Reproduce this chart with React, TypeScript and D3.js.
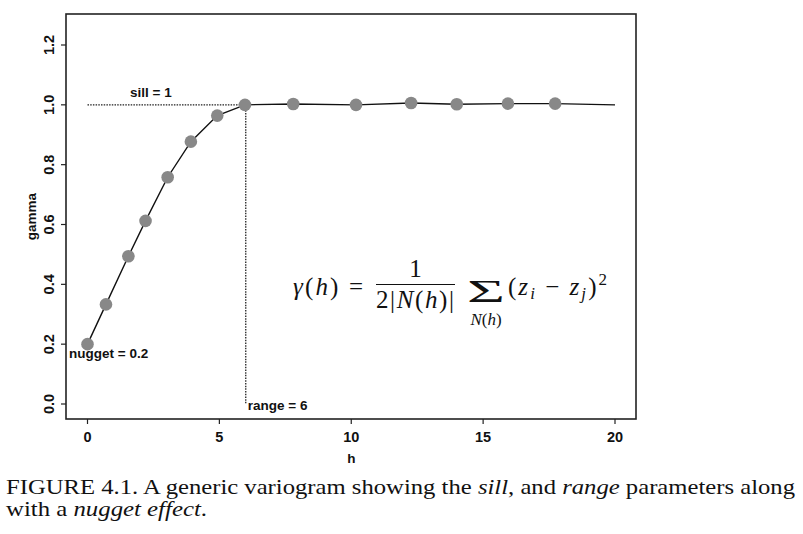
import React from "react";
import * as d3 from "d3";

const lagH = [0, 0.7, 1.55, 2.2, 3.04, 3.92, 4.92, 5.97, 7.8, 10.18, 12.27, 14.0, 15.94, 17.73];
const gammaV = [0.2, 0.333, 0.494, 0.612, 0.758, 0.877, 0.964, 1.0, 1.003, 1.0, 1.006, 1.002, 1.004, 1.004];
const lineEnd = { h: 20, g: 1.0 };
const xTicks = [0, 5, 10, 15, 20];
const yTicks = [0, 0.2, 0.4, 0.6, 0.8, 1.0, 1.2];
const sill = 1;
const range = 6;
const nugget = 0.2;

export default function App() {
  const W = 803, H = 534;
  const box = { l: 66, r: 636, t: 14, b: 419 };
  const x = d3.scaleLinear().domain([0, 20]).range([87.5, 615]);
  const y = d3.scaleLinear().domain([0, 1.2]).range([404, 45]);
  const pts = lagH.map((h, i) => [h, gammaV[i]] as [number, number]);
  const linePts = [...pts, [lineEnd.h, lineEnd.g] as [number, number]];
  const line = d3.line<[number, number]>().x(d => x(d[0])).y(d => y(d[1]));
  const sans = "'Liberation Sans', Arial, Helvetica, sans-serif";
  const serif = "'Liberation Serif', 'DejaVu Serif', serif";
  const fw = 600;
  const fs = 14.5;
  return (
    <svg width={W} height={H} style={{ position: "absolute", left: 0, top: 0, background: "#fff" }}>
      <rect x={0} y={0} width={W} height={H} fill="#fff" />
      <rect x={box.l} y={box.t} width={box.r - box.l} height={box.b - box.t} fill="none" stroke="#222" strokeWidth={1.6} />
      {/* y axis */}
      {yTicks.map(t => (
        <g key={"y" + t}>
          <line x1={box.l - 5} x2={box.l} y1={y(t)} y2={y(t)} stroke="#222" strokeWidth={1.2} />
          <text transform={`translate(54,${y(t)}) rotate(-90)`} textAnchor="middle" fontFamily={sans} fontWeight={fw} fontSize={fs} fill="#111">
            {t.toFixed(1)}
          </text>
        </g>
      ))}
      {/* x axis */}
      {xTicks.map(t => (
        <g key={"x" + t}>
          <line x1={x(t)} x2={x(t)} y1={box.b} y2={box.b + 5} stroke="#222" strokeWidth={1.2} />
          <text x={x(t)} y={442} textAnchor="middle" fontFamily={sans} fontWeight={fw} fontSize={fs} fill="#111">
            {t}
          </text>
        </g>
      ))}
      <text x={(x(0) + x(20)) / 2} y={463} textAnchor="middle" fontFamily={sans} fontWeight={fw} fontSize={13.5} fill="#111">h</text>
      <text transform={`translate(36,${(box.t + box.b) / 2}) rotate(-90)`} textAnchor="middle" fontFamily={sans} fontWeight={fw} fontSize={13.5} fill="#111">gamma</text>

      {/* sill & range reference lines */}
      <line x1={x(0)} x2={x(range)} y1={y(sill)} y2={y(sill)} stroke="#222" strokeWidth={1.3} strokeDasharray="1.5,1.2" />
      <line x1={x(range)} x2={x(range)} y1={y(sill)} y2={y(0)} stroke="#222" strokeWidth={1.3} strokeDasharray="1.5,1.2" />

      {/* variogram line */}
      <path d={line(linePts) || ""} fill="none" stroke="#111" strokeWidth={1.4} />
      {pts.map((p, i) => (
        <circle key={i} cx={x(p[0])} cy={y(p[1])} r={6.3} fill="#888" />
      ))}

      {/* annotations */}
      <text x={130} y={97} fontFamily={sans} fontWeight={fw} fontSize={13.5} fill="#111">sill = {sill}</text>
      <text x={69} y={358} fontFamily={sans} fontWeight={fw} fontSize={13.5} fill="#111">nugget = {nugget}</text>
      <text x={x(range) + 2} y={410} fontFamily={sans} fontWeight={fw} fontSize={13.5} fill="#111">range = {range}</text>

      {/* formula */}
      <g fontFamily={serif} fill="#111" fontSize={25}>
        <text x={293} y={295} textLength={70} lengthAdjust="spacing">
          <tspan fontStyle="italic">γ</tspan>(<tspan fontStyle="italic">h</tspan>) =
        </text>
        <text x={415.5} y={277} textAnchor="middle">1</text>
        <line x1={376} x2={455} y1={284.5} y2={284.5} stroke="#111" strokeWidth={1.2} />
        <text x={376} y={308} textLength={78} lengthAdjust="spacing">
          2|<tspan fontStyle="italic">N</tspan>(<tspan fontStyle="italic">h</tspan>)|
        </text>
        <text x={467} y={302} fontSize={31} textLength={38} lengthAdjust="spacingAndGlyphs">Σ</text>
        <text x={486} y={325} textAnchor="middle" fontSize={17}>
          <tspan fontStyle="italic">N</tspan>(<tspan fontStyle="italic">h</tspan>)
        </text>
        <text x={508} y={295} textLength={99} lengthAdjust="spacing">
          (<tspan fontStyle="italic">z</tspan><tspan fontStyle="italic" fontSize={17} dy={4}>i</tspan>
          <tspan dy={-4}> − </tspan>
          <tspan fontStyle="italic">z</tspan><tspan fontStyle="italic" fontSize={17} dy={4}>j</tspan>
          <tspan dy={-4}>)</tspan><tspan fontSize={17} dy={-10}>2</tspan>
        </text>
      </g>

      {/* caption */}
      <text x={6} y={494} fontFamily={serif} fontSize={21} fill="#111" textLength={789} lengthAdjust="spacingAndGlyphs">
        FIGURE 4.1. A generic variogram showing the <tspan fontStyle="italic">sill</tspan>, and <tspan fontStyle="italic">range</tspan> parameters along
      </text>
      <text x={6} y={516} fontFamily={serif} fontSize={21} fill="#111" textLength={201} lengthAdjust="spacingAndGlyphs">
        with a <tspan fontStyle="italic">nugget effect</tspan>.
      </text>
    </svg>
  );
}
